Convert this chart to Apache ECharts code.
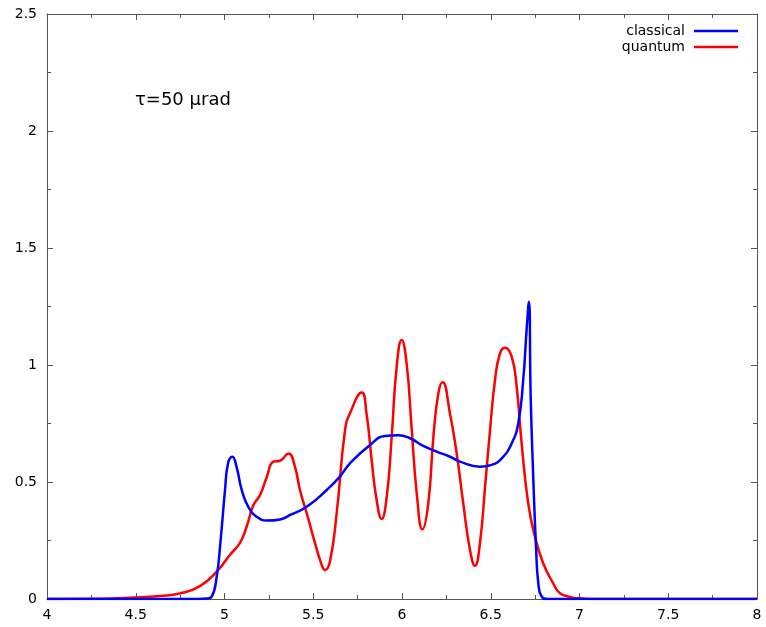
<!DOCTYPE html>
<html><head><meta charset="utf-8">
<script src="https://cdn.jsdelivr.net/npm/echarts@6/dist/echarts.min.js"></script>
<style>html,body{margin:0;padding:0;background:#fff}#c{width:766px;height:627px}</style>
</head><body><div id="c"></div>
<script>
const classicalX = [4.0,4.85,4.9,4.928,4.956,4.978,5.003,5.02,5.044,5.068,5.097,5.134,5.181,5.238,5.313,5.37,5.463,5.576,5.65,5.707,5.82,5.904,5.979,6.045,6.12,6.195,6.27,6.327,6.439,6.505,6.562,6.618,6.655,6.683,6.702,6.715,6.725,6.74,6.755,6.768,6.787,6.82,8.0];
const classicalY = [0,0,0.002,0.01,0.095,0.25,0.466,0.58,0.608,0.565,0.466,0.394,0.352,0.335,0.34,0.359,0.394,0.466,0.523,0.58,0.658,0.697,0.70,0.687,0.654,0.63,0.608,0.587,0.565,0.573,0.601,0.665,0.751,0.936,1.15,1.27,0.865,0.51,0.224,0.067,0.01,0,0];
const quantumX = [4.0,4.3,4.49,4.637,4.75,4.862,4.956,5.03,5.087,5.125,5.162,5.2,5.238,5.275,5.313,5.36,5.397,5.425,5.463,5.51,5.548,5.566,5.594,5.632,5.679,5.707,5.773,5.80,5.829,5.857,5.885,5.914,5.942,5.97,5.998,6.026,6.055,6.083,6.115,6.148,6.177,6.205,6.229,6.27,6.308,6.345,6.383,6.411,6.439,6.468,6.496,6.524,6.552,6.58,6.618,6.646,6.674,6.711,6.749,6.796,6.852,6.89,6.95,7.0,7.1,8.0];
const quantumY = [0,0.001,0.006,0.013,0.024,0.055,0.117,0.188,0.24,0.31,0.40,0.444,0.52,0.587,0.591,0.622,0.565,0.466,0.367,0.239,0.145,0.124,0.16,0.367,0.722,0.794,0.882,0.794,0.594,0.423,0.342,0.437,0.694,0.993,1.107,1.007,0.722,0.452,0.298,0.409,0.694,0.879,0.926,0.794,0.623,0.409,0.209,0.142,0.238,0.48,0.722,0.936,1.05,1.074,1.036,0.907,0.665,0.409,0.266,0.152,0.067,0.025,0.008,0.003,0,0];
const seriesNames = ['classical','quantum'];
const annotation = 'τ=50 μrad';

const zip = (xs, ys) => xs.map((x,i)=>[x, ys[i]]);
const font = 'DejaVu Sans';
const axisCol = '#555';
const chart = echarts.init(document.getElementById('c'), null, {renderer:'canvas'});
const xBase = {type:'value', min:4, max:8, interval:0.5,
  axisLine:{show:true, onZero:false, lineStyle:{color:axisCol, width:1}},
  axisTick:{show:true, inside:true, length:6, lineStyle:{color:axisCol}},
  minorTick:{show:true, splitNumber:2, length:4, lineStyle:{color:axisCol}},
  splitLine:{show:false}};
const yBase = {type:'value', min:0, max:2.5, interval:0.5,
  axisLine:{show:true, onZero:false, lineStyle:{color:axisCol, width:1}},
  axisTick:{show:true, inside:true, length:6, lineStyle:{color:axisCol}},
  minorTick:{show:true, splitNumber:2, length:4, lineStyle:{color:axisCol}},
  splitLine:{show:false}};
chart.setOption({
  backgroundColor:'#fff',
  animation:false,
  grid:{left:47, right:9, top:14, bottom:28, containLabel:false},
  title:{text:annotation, left:135, top:91, padding:0, textStyle:{fontFamily:font, fontSize:18, fontWeight:'normal', color:'#000'}},
  legend:{orient:'vertical', right:28, top:23, padding:0, align:'right', itemWidth:44, itemHeight:2.5, itemGap:0,
    icon:'rect',
    textStyle:{fontFamily:font, fontSize:14, color:'#000', padding:[0,4,0,0], lineHeight:16},
    data:seriesNames},
  xAxis:[
    Object.assign({}, xBase, {position:'bottom', axisLabel:{fontFamily:font, fontSize:14, color:'#000', margin:9}}),
    Object.assign({}, xBase, {position:'top', axisLabel:{show:false}})
  ],
  yAxis:[
    Object.assign({}, yBase, {position:'left', axisLabel:{fontFamily:font, fontSize:14, color:'#000', margin:10}}),
    Object.assign({}, yBase, {position:'right', axisLabel:{show:false}})
  ],
  series:[
    {name:seriesNames[0], type:'line', data:zip(classicalX, classicalY), showSymbol:false, symbol:'none', smooth:0.5,
      lineStyle:{color:'#0000ff', width:2.5}, itemStyle:{color:'#0000ff'}, z:3},
    {name:seriesNames[1], type:'line', data:zip(quantumX, quantumY), showSymbol:false, symbol:'none', smooth:0.5,
      lineStyle:{color:'#ff0000', width:2.5}, itemStyle:{color:'#ff0000'}, z:2}
  ]
});
</script></body></html>
